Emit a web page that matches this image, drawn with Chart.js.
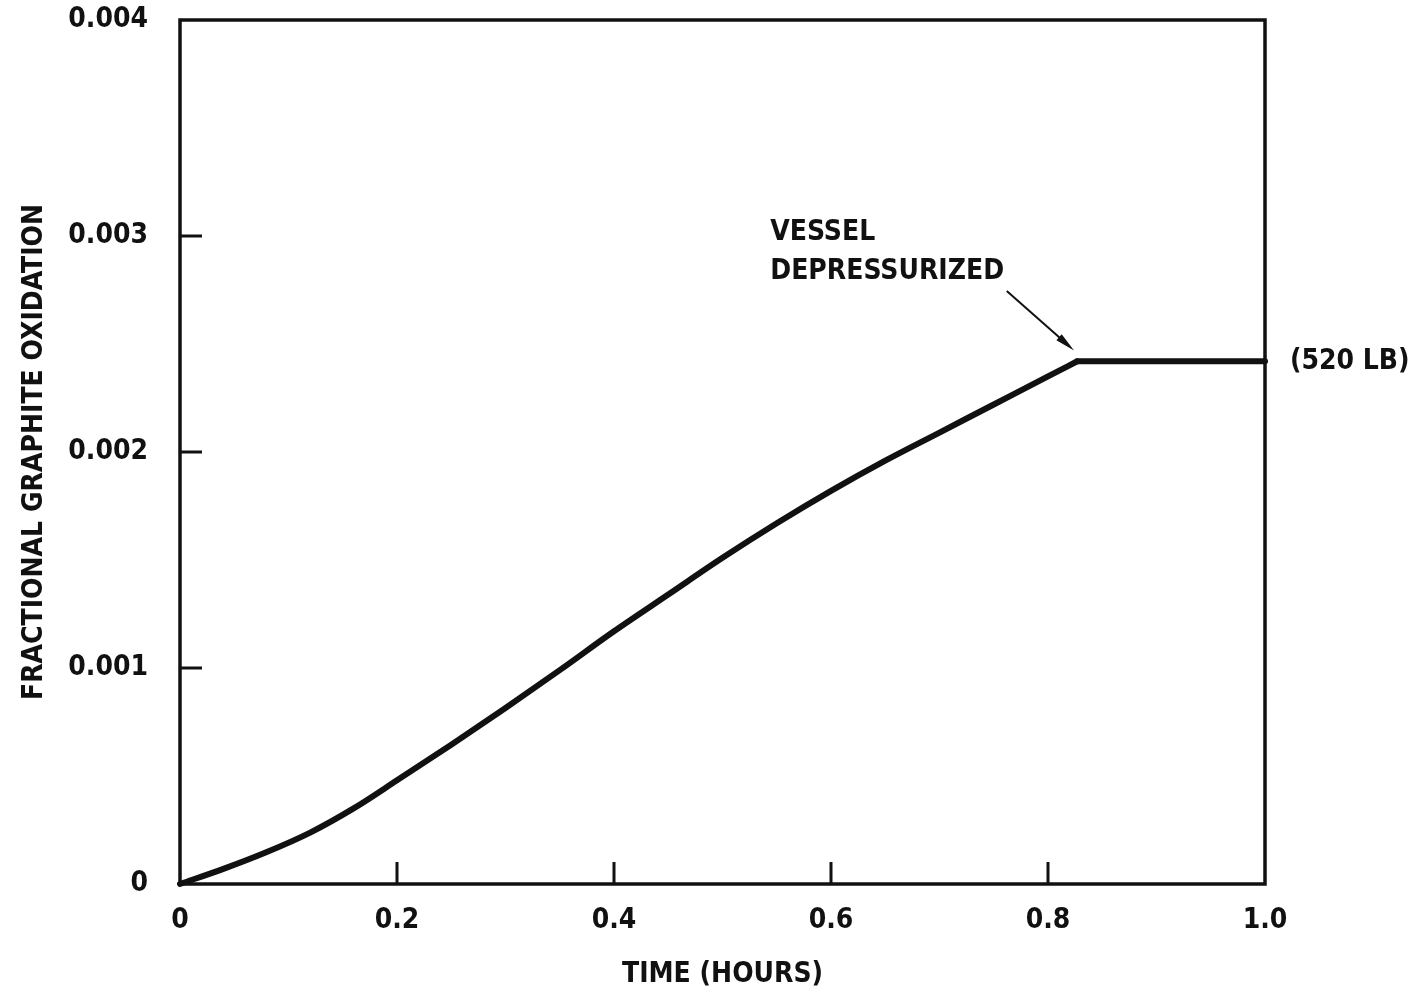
<!DOCTYPE html>
<html>
<head>
<meta charset="utf-8">
<title>Fractional graphite oxidation</title>
<script src="https://cdn.jsdelivr.net/npm/chart.js@4/dist/chart.umd.min.js"></script>
<style>
  html, body { margin: 0; padding: 0; background: #fff; }
  #wrap { width: 1411px; height: 994px; }
</style>
</head>
<body>
<div id="wrap"><canvas id="chart"></canvas></div>
<script>
  // time (hours) vs fractional oxidation; the vessel is depressurized at the knee
  const hours = [0, 0.04, 0.08, 0.12, 0.16, 0.2, 0.25, 0.3, 0.35, 0.4, 0.45, 0.5, 0.55, 0.6, 0.65, 0.7, 0.75, 0.8, 0.827, 1.0];
  const oxidation = [0, 0.00007, 0.000148, 0.000238, 0.00035, 0.00048, 0.000645, 0.000815, 0.00099, 0.00117, 0.00134, 0.00151, 0.00167, 0.00182, 0.00196, 0.00209, 0.00222, 0.00235, 0.00242, 0.00242];

  const xTickValues = [0, 0.2, 0.4, 0.6, 0.8, 1.0];
  const xTickLabels = ['0', '0.2', '0.4', '0.6', '0.8', '1.0'];
  const yTickValues = [0, 0.001, 0.002, 0.003, 0.004];
  const yTickLabels = ['0', '0.001', '0.002', '0.003', '0.004'];

  const INK = '#111';
  const FAMILY = "'DejaVu Sans Condensed', 'Liberation Sans Narrow', 'Arial Narrow', sans-serif";
  const FONT = { family: FAMILY, size: 28, weight: 'bold' };

  // split at the knee so the plateau joins with a sharp corner
  const knee = oxidation.indexOf(Math.max(...oxidation));
  const pts = hours.map((h, i)=> ({x: h, y: oxidation[i]}));
  const rising = pts.slice(0, knee + 1);
  const plateau = pts.slice(knee);

  // box round the plot, inward tick marks and the callouts
  const framePlugin = {
    id: 'frame',
    afterDatasetsDraw(chart){
      const {ctx, chartArea: a, scales: {x, y}} = chart;
      ctx.save();
      ctx.strokeStyle = INK;
      ctx.lineWidth = 3.5;
      ctx.strokeRect(a.left, a.top, a.right - a.left, a.bottom - a.top);

      ctx.lineWidth = 3;
      ctx.beginPath();
      xTickValues.slice(1, -1).forEach(v=>{
        const px = x.getPixelForValue(v);
        ctx.moveTo(px, a.bottom);
        ctx.lineTo(px, a.bottom - 22);
      });
      yTickValues.slice(1, -1).forEach(v=>{
        const py = y.getPixelForValue(v);
        ctx.moveTo(a.left, py);
        ctx.lineTo(a.left + 22, py);
      });
      ctx.stroke();

      // callout text
      ctx.fillStyle = INK;
      ctx.font = 'bold 28px ' + FAMILY;
      ctx.textBaseline = 'alphabetic';
      ctx.textAlign = 'left';
      ctx.fillText('VESSEL', x.getPixelForValue(0.544), y.getPixelForValue(0.00298));
      ctx.fillText('DEPRESSURIZED', x.getPixelForValue(0.544), y.getPixelForValue(0.0028));
      ctx.textBaseline = 'middle';
      ctx.fillText('(520 LB)', x.getPixelForValue(1.023), y.getPixelForValue(oxidation[oxidation.length - 1]));

      // arrow to the knee of the curve
      const x0 = x.getPixelForValue(0.762), y0 = y.getPixelForValue(0.002745);
      const x1 = x.getPixelForValue(0.824), y1 = y.getPixelForValue(0.00247);
      const ang = Math.atan2(y1 - y0, x1 - x0);
      ctx.lineWidth = 2;
      ctx.beginPath();
      ctx.moveTo(x0, y0);
      ctx.lineTo(x1 - 10 * Math.cos(ang), y1 - 10 * Math.sin(ang));
      ctx.stroke();
      ctx.beginPath();
      ctx.moveTo(x1, y1);
      ctx.lineTo(x1 - 20 * Math.cos(ang) + 4 * Math.sin(ang), y1 - 20 * Math.sin(ang) - 4 * Math.cos(ang));
      ctx.lineTo(x1 - 20 * Math.cos(ang) - 4 * Math.sin(ang), y1 - 20 * Math.sin(ang) + 4 * Math.cos(ang));
      ctx.closePath();
      ctx.fill();
      ctx.restore();
    }
  };

  const lineStyle = {
    borderColor: INK,
    borderWidth: 6,
    pointRadius: 0,
    borderCapStyle: 'round',
    borderJoinStyle: 'round',
    clip: false
  };

  const ctx = document.getElementById('chart').getContext('2d');
  new Chart(ctx, {
    type: 'line',
    data: {
      datasets: [
        { ...lineStyle, data: rising, cubicInterpolationMode: 'monotone' },
        { ...lineStyle, data: plateau, tension: 0 }
      ]
    },
    options: {
      responsive: true,
      maintainAspectRatio: false,
      animation: false,
      events: [],
      layout: { padding: { top: 20, right: 146, bottom: 0, left: 0 } },
      plugins: { legend: { display: false }, tooltip: { enabled: false } },
      scales: {
        x: {
          type: 'linear', min: 0, max: 1,
          border: { display: false },
          grid: { display: false, drawTicks: false },
          afterBuildTicks: (s)=> { s.ticks = xTickValues.map(v=> ({value: v})); },
          afterFit: (s)=> { s.height = 110; s.paddingLeft = 0; s.paddingRight = 0; },
          ticks: {
            color: INK, padding: 20, font: FONT,
            callback: (v, i)=> xTickLabels[i]
          },
          title: {
            display: true, text: 'TIME (HOURS)', color: INK,
            padding: { top: 0, bottom: 2 }, font: FONT
          }
        },
        y: {
          type: 'linear', min: 0, max: 0.004,
          border: { display: false },
          grid: { display: false, drawTicks: false },
          afterBuildTicks: (s)=> { s.ticks = yTickValues.map(v=> ({value: v})); },
          afterFit: (s)=> { s.width = 180; s.paddingTop = 0; s.paddingBottom = 0; },
          ticks: {
            color: INK, padding: 32, font: FONT,
            callback: (v, i)=> yTickLabels[i]
          },
          title: {
            display: true, text: 'FRACTIONAL GRAPHITE OXIDATION', color: INK,
            padding: { top: 18, bottom: 0 }, font: FONT
          }
        }
      }
    },
    plugins: [framePlugin]
  });
</script>
</body>
</html>
